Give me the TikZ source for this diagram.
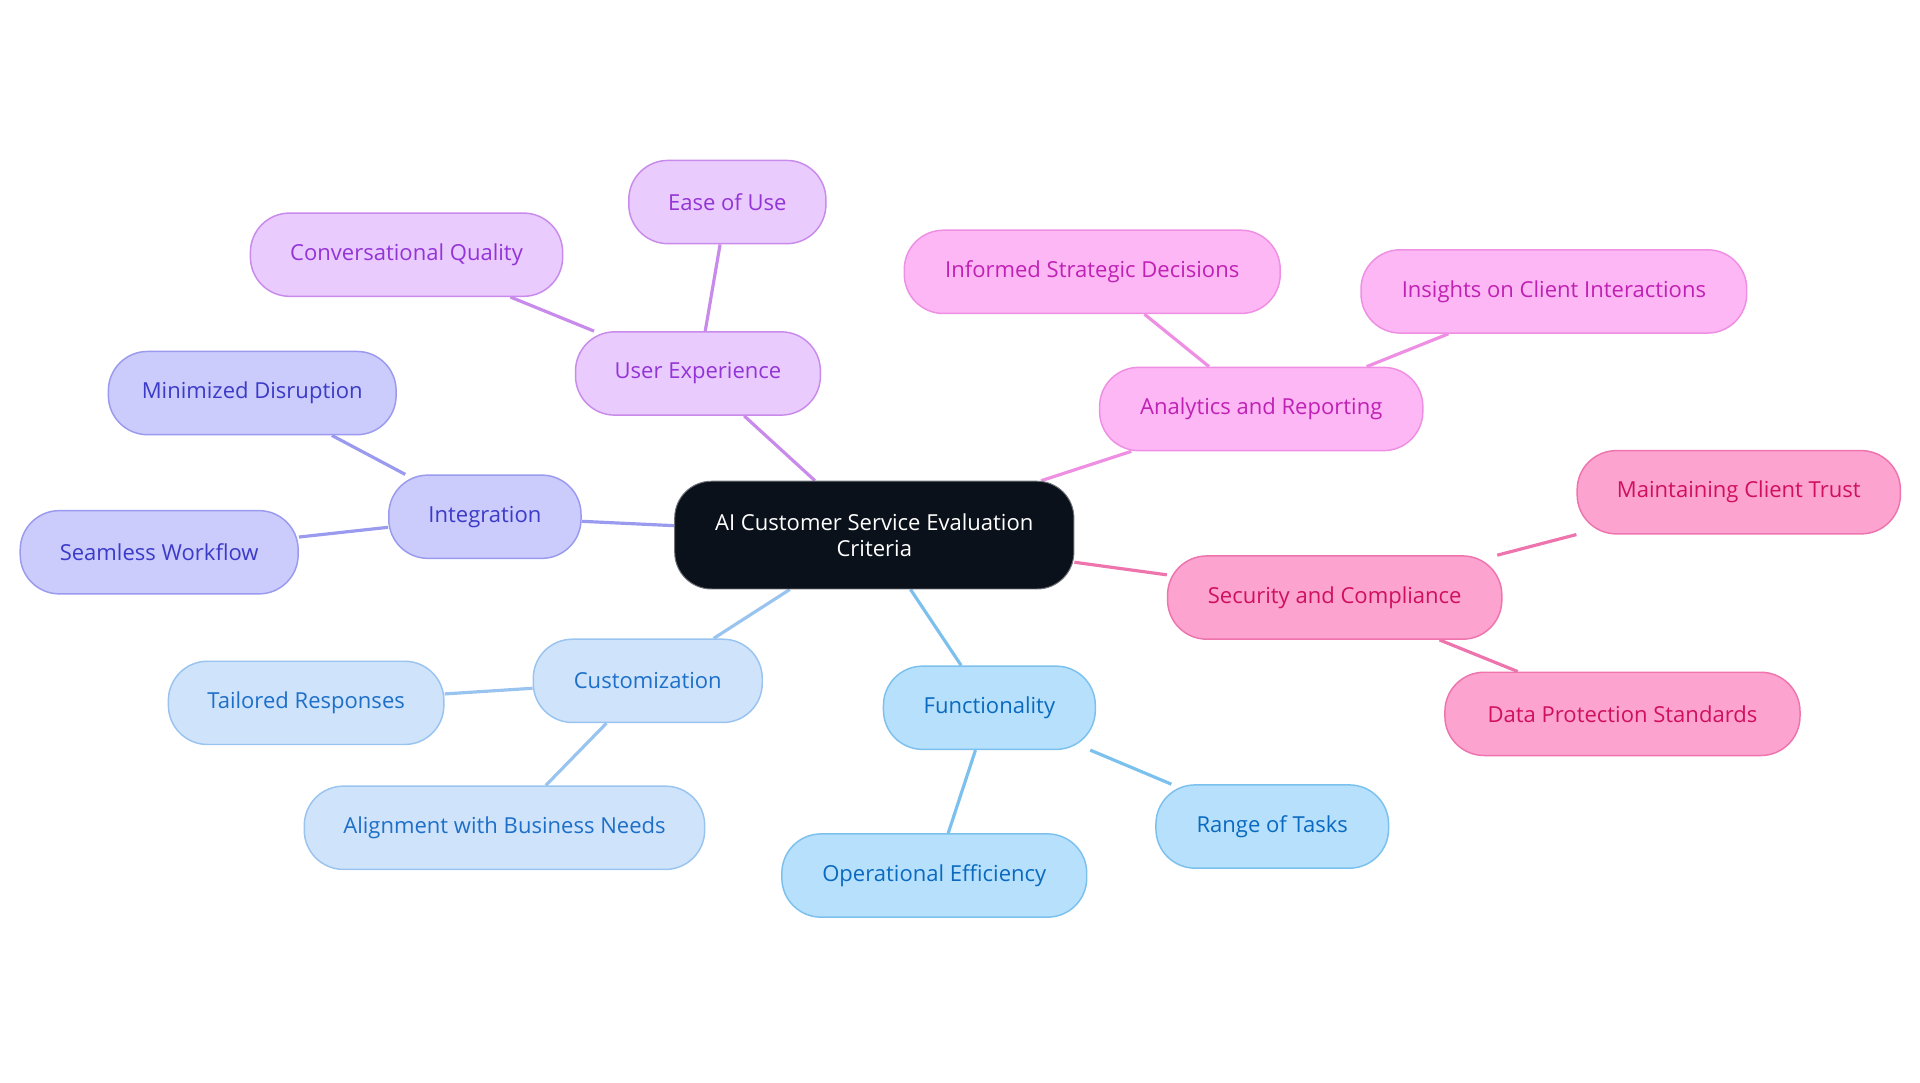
\documentclass[tikz,border=0pt]{standalone}
\usepackage{fontspec}
\setmainfont{Open Sans}
\usetikzlibrary{backgrounds}
\definecolor{pF}{HTML}{EACBFD}\definecolor{pD}{HTML}{C98BEB}\definecolor{pT}{HTML}{9334D6}
\definecolor{iF}{HTML}{CBCBFC}\definecolor{iD}{HTML}{9A9AEF}\definecolor{iT}{HTML}{3B3BC8}
\definecolor{cF}{HTML}{CFE3FB}\definecolor{cD}{HTML}{9AC4F0}\definecolor{cT}{HTML}{1D6FC8}
\definecolor{fF}{HTML}{B6E0FC}\definecolor{fD}{HTML}{7CC1EE}\definecolor{fT}{HTML}{0A6ABF}
\definecolor{aF}{HTML}{FDB7F4}\definecolor{aD}{HTML}{EE8FE3}\definecolor{aT}{HTML}{C021B5}
\definecolor{sF}{HTML}{FCA3CF}\definecolor{sD}{HTML}{EE74AE}\definecolor{sT}{HTML}{D0105F}
\definecolor{ctr}{HTML}{0B111A}
\tikzset{
 n/.style n args={4}{draw=#2,fill=#1,text=#3,line width=0.6pt,rounded corners=16pt,minimum height=34pt,minimum width=#4,inner sep=0pt,font=\fontsize{9}{11}\selectfont},
 P/.style={n={pF}{pD}{pT}{#1}}, I/.style={n={iF}{iD}{iT}{#1}},
 C/.style={n={cF}{cD}{cT}{#1}}, F/.style={n={fF}{fD}{fT}{#1}},
 A/.style={n={aF}{aD}{aT}{#1}}, S/.style={n={sF}{sD}{sT}{#1}},
 e/.style={draw=#1,line width=1.3pt}
}
\begin{document}
\begin{tikzpicture}[x=0.5pt,y=-0.5pt]
\useasboundingbox (0,0) rectangle (1568,884);
\node[draw=ctr!60,fill=ctr,text=white,rounded corners=15pt,minimum width=163pt,minimum height=44pt,align=center,font=\fontsize{9}{10.5}\selectfont,inner sep=0pt] (c) at (714,437) {AI Customer Service Evaluation\\Criteria};
\node[P=100pt] (ux) at (570,305) {User Experience};
\node[P=80.5pt] (ease) at (594,165) {Ease of Use};
\node[P=127.5pt] (conv) at (332,208) {Conversational Quality};
\node[I=78.5pt] (int) at (396,422) {Integration};
\node[I=117.5pt] (min) at (206,321) {Minimized Disruption};
\node[I=113.5pt] (seam) at (130,451) {Seamless Workflow};
\node[C=93.5pt] (cus) at (529,556) {Customization};
\node[C=112.5pt] (tail) at (250,574) {Tailored Responses};
\node[C=163.5pt] (align) at (412,676) {Alignment with Business Needs};
\node[F=86.5pt] (fun) at (808,578) {Functionality};
\node[F=124.5pt] (op) at (763,715) {Operational Efficiency};
\node[F=95pt] (rng) at (1039,675) {Range of Tasks};
\node[A=132pt] (ana) at (1030,334) {Analytics and Reporting};
\node[A=153.5pt] (inf) at (892,222) {Informed Strategic Decisions};
\node[A=157.5pt] (ins) at (1269,238) {Insights on Client Interactions};
\node[S=136.5pt] (sec) at (1090,488) {Security and Compliance};
\node[S=132pt] (mct) at (1420,402) {Maintaining Client Trust};
\node[S=145pt] (dps) at (1325,583) {Data Protection Standards};
\begin{scope}[on background layer]
\draw[e=pD] (c)--(ux); \draw[e=pD] (ux)--(ease); \draw[e=pD] (ux)--(conv);
\draw[e=iD] (c)--(int); \draw[e=iD] (int)--(min); \draw[e=iD] (int)--(seam);
\draw[e=cD] (c)--(cus); \draw[e=cD] (cus)--(tail); \draw[e=cD] (cus)--(align);
\draw[e=fD] (c)--(fun); \draw[e=fD] (fun)--(op); \draw[e=fD] (fun)--(rng);
\draw[e=aD] (c)--(ana); \draw[e=aD] (ana)--(inf); \draw[e=aD] (ana)--(ins);
\draw[e=sD] (c)--(sec); \draw[e=sD] (sec)--(mct); \draw[e=sD] (sec)--(dps);
\end{scope}
\end{tikzpicture}
\end{document}
